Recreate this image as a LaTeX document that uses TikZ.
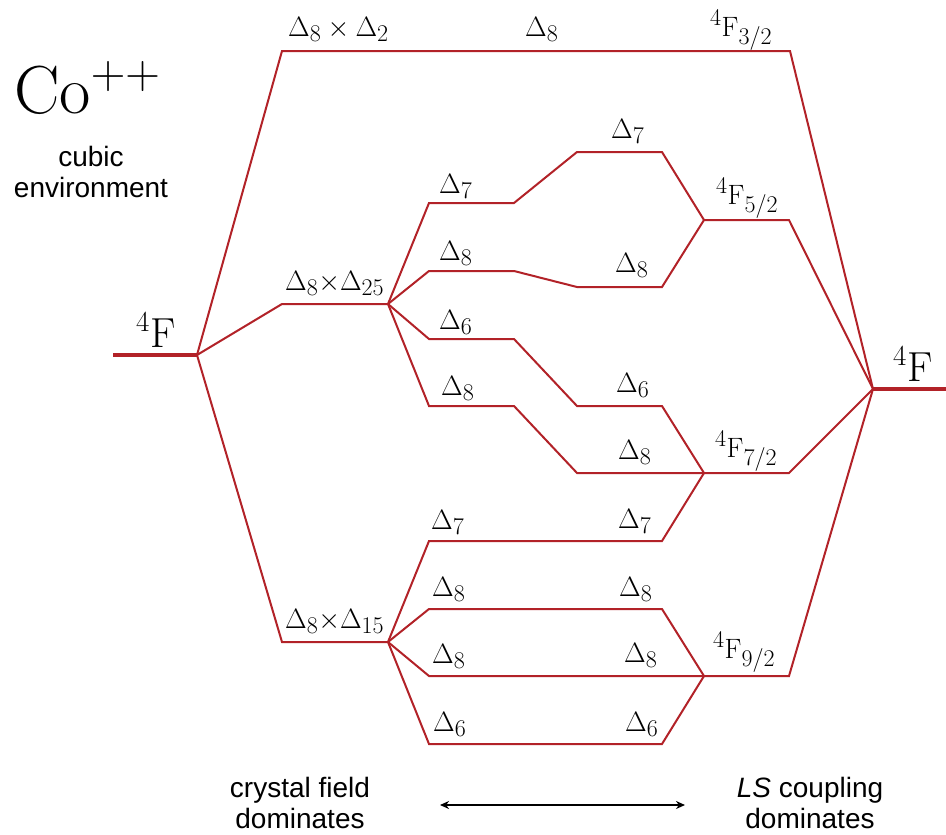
\RequirePackage{fix-cm}
\documentclass[tikz,border=0pt]{standalone}
\usepackage{fontspec}
\newfontfamily\hv{Liberation Sans}
\usetikzlibrary{arrows.meta}
\definecolor{lvl}{RGB}{178,34,40}
\DeclareMathSizes{28}{28}{24}{18}
\DeclareMathSizes{42}{42}{29}{21}
\DeclareMathSizes{68}{68}{48}{34}
\begin{document}
\begin{tikzpicture}[x=1pt,y=-1pt,
  lev/.style={draw=lvl, line width=2pt, line join=miter},
  biglev/.style={draw=lvl, line width=4pt},
  lab/.style={inner sep=0pt, anchor=base west, font=\fontsize{28}{34}\selectfont},
  biglab/.style={inner sep=0pt, anchor=base west, font=\fontsize{42}{48}\selectfont},
  sans/.style={inner sep=0pt, align=center, font=\hv\fontsize{28}{31}\selectfont}]
\useasboundingbox (0,0) rectangle (946,835);
% coordinates
\coordinate (L0) at (113,355); \coordinate (Lc) at (197,355);
\coordinate (Rc) at (873,389); \coordinate (R0) at (946,389);
\coordinate (T1) at (282,51);  \coordinate (T2) at (790,51);
\coordinate (M1) at (282,304); \coordinate (M2) at (388,304);
\coordinate (B1) at (282,642); \coordinate (B2) at (388,642);
\coordinate (a1) at (429,203); \coordinate (a2) at (514,203); \coordinate (a3) at (577,152); \coordinate (a4) at (662,152);
\coordinate (b1) at (429,271); \coordinate (b2) at (514,271); \coordinate (b3) at (577,287); \coordinate (b4) at (662,287);
\coordinate (c1) at (429,339); \coordinate (c2) at (514,339); \coordinate (c3) at (577,406); \coordinate (c4) at (662,406);
\coordinate (d1) at (429,406); \coordinate (d2) at (514,406); \coordinate (d3) at (577,473);
\coordinate (e1) at (429,541); \coordinate (e4) at (662,541);
\coordinate (f1) at (429,609); \coordinate (f4) at (662,609);
\coordinate (g1) at (429,676);
\coordinate (h1) at (429,744); \coordinate (h4) at (662,744);
\coordinate (J52) at (704,220); \coordinate (K52) at (789,220);
\coordinate (J72) at (704,473); \coordinate (K72) at (789,473);
\coordinate (J92) at (704,676); \coordinate (K92) at (789,676);
% thick terms
\draw[biglev] (L0) -- (Lc);
\draw[biglev] (Rc) -- (R0);
% top branch
\draw[lev] (Lc) -- (T1) -- (T2) -- (Rc);
% middle branch
\draw[lev] (Lc) -- (M1) -- (M2);
\draw[lev] (M2) -- (a1) -- (a2) -- (a3) -- (a4) -- (J52);
\draw[lev] (M2) -- (b1) -- (b2) -- (b3) -- (b4) -- (J52);
\draw[lev] (M2) -- (c1) -- (c2) -- (c3) -- (c4) -- (J72);
\draw[lev] (M2) -- (d1) -- (d2) -- (d3) -- (J72);
% bottom branch
\draw[lev] (Lc) -- (B1) -- (B2);
\draw[lev] (B2) -- (e1) -- (e4) -- (J72);
\draw[lev] (B2) -- (f1) -- (f4) -- (J92);
\draw[lev] (B2) -- (g1) -- (J92);
\draw[lev] (B2) -- (h1) -- (h4) -- (J92);
% J levels
\draw[lev] (J52) -- (K52) -- (Rc);
\draw[lev] (J72) -- (K72) -- (Rc);
\draw[lev] (J92) -- (K92) -- (Rc);
% labels
\node[lab] (lT1) at (288,36) {$\Delta_8\times\Delta_2$};
\node[lab] (lT2) at (525,36) {$\Delta_8$};
\node[lab] (lT3) at (710,36) {$^4\mathrm{F}_{3/2}$};
\node[lab] (lM) at (285,290) {$\Delta_8{\times}\Delta_{25}$};
\node[lab] (lB) at (285,628) {$\Delta_8{\times}\Delta_{15}$};
\node[lab] (la1) at (439,193) {$\Delta_7$};
\node[lab] (lb1) at (439,260) {$\Delta_8$};
\node[lab] (lc1) at (439,329) {$\Delta_6$};
\node[lab] (ld1) at (441,395) {$\Delta_8$};
\node[lab] (le1) at (431,529) {$\Delta_7$};
\node[lab] (lf1) at (432,596) {$\Delta_8$};
\node[lab] (lg1) at (432,663) {$\Delta_8$};
\node[lab] (lh1) at (433,731) {$\Delta_6$};
\node[lab] (la2) at (611,138) {$\Delta_7$};
\node[lab] (lb2) at (615,272) {$\Delta_8$};
\node[lab] (lc2) at (616,392) {$\Delta_6$};
\node[lab] (ld2) at (618,459) {$\Delta_8$};
\node[lab] (le2) at (618,528) {$\Delta_7$};
\node[lab] (lf2) at (619,596) {$\Delta_8$};
\node[lab] (lg2) at (624,662) {$\Delta_8$};
\node[lab] (lh2) at (625,731) {$\Delta_6$};
\node[lab] (l52) at (716,204) {$^4\mathrm{F}_{5/2}$};
\node[lab] (l72) at (715,457) {$^4\mathrm{F}_{7/2}$};
\node[lab] (l92) at (713,658) {$^4\mathrm{F}_{9/2}$};
\node[biglab] (lL) at (136,347) {$^4\mathrm{F}$};
\node[biglab] (lR) at (893,381) {$^4\mathrm{F}$};
\node[inner sep=0pt, anchor=base west, font=\fontsize{68}{76}\selectfont] (co) at (14,113) {Co$^{++}$};
\node[sans] (cub) at (91,172) {cubic\\environment};
\node[sans] (cf) at (300,803) {crystal field\\dominates};
\node[sans] (ls) at (810,803) {\textit{LS} coupling\\dominates};
\coordinate (A1) at (440,805); \coordinate (A2) at (685,805);
\draw[line width=1.6pt, {Stealth[length=9pt,width=8pt]}-{Stealth[length=9pt,width=8pt]}] (A1) -- (A2);
\end{tikzpicture}
\end{document}
